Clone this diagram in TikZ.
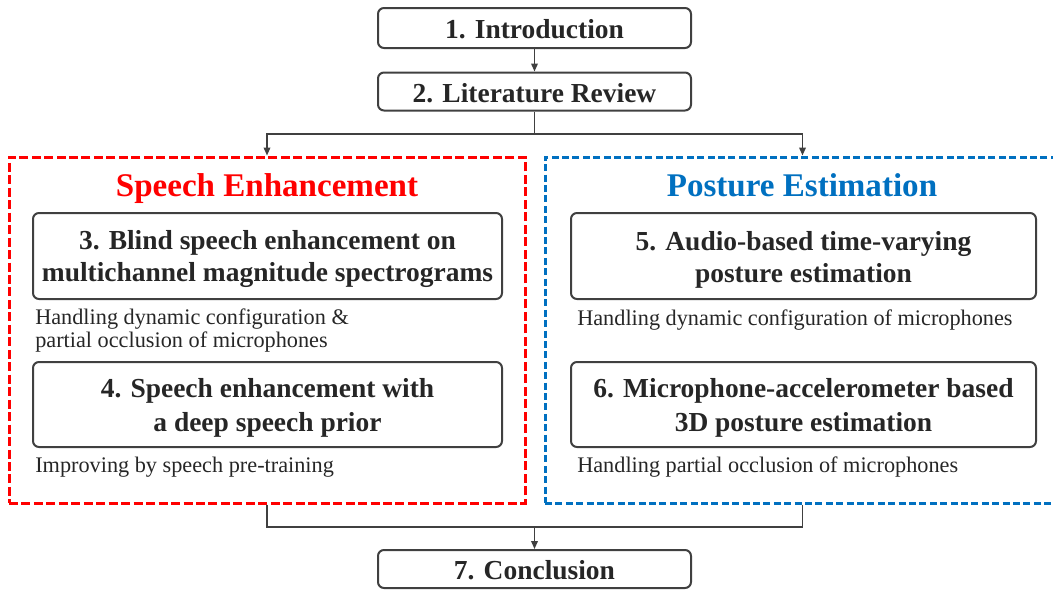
\documentclass[tikz,border=0pt]{standalone}
\usepackage{fontspec}
\setmainfont{Liberation Serif}
\usetikzlibrary{arrows.meta}
\definecolor{txt}{HTML}{262626}
\definecolor{edge}{HTML}{404040}
\definecolor{sered}{HTML}{FF0000}
\definecolor{peblue}{HTML}{0070C0}
\newcommand\boxtop{\rule{0pt}{19.5pt}}
\newcommand\boxtopone{\rule{0pt}{16.5pt}}
\tikzset{
  box/.style={draw=edge, line width=1.5pt, rounded corners=4.5pt, inner sep=0pt,
    text=txt, font=\fontsize{20.6}{24}\selectfont\bfseries, align=center},
  boxwide/.style={box, font=\fontsize{20.6}{25.5}\selectfont\bfseries},
  small/.style={inner sep=0pt, anchor=base west, text=txt, align=left,
    font=\fontsize{16.7}{17.25}\selectfont},
  conn/.style={draw=edge, line width=1.1pt},
  arr/.style={conn, -{Triangle[length=6pt,width=5pt]}},
  group/.style={inner sep=0pt, line width=2.25pt},
  grouptitle/.style={inner sep=0pt, anchor=base, font=\fontsize{24.8}{28}\selectfont\bfseries}
}
\begin{document}
\begin{tikzpicture}[x=0.75pt,y=-0.75pt]
\useasboundingbox (0,0) rectangle (1053,590);
% group frames
\node[group, draw=sered, dash pattern=on 6.75pt off 2.6pt, minimum width=387pt, minimum height=259.5pt] (se) at (267,330) {};
\node[group, draw=peblue, dash pattern=on 5.2pt off 2.6pt, minimum width=386.25pt, minimum height=259.5pt] (pe) at (802.5,330) {};
\node[grouptitle, text=sered] (set) at (267,196) {Speech Enhancement};
\node[grouptitle, text=peblue] (pet) at (802,196) {Posture Estimation};
% main boxes
\node[box, minimum width=234.75pt, minimum height=30pt] (n1) at (534.5,28) {\boxtopone 1. Introduction};
\node[box, minimum width=234.75pt, minimum height=28.5pt] (n2) at (534.5,91.5) {\boxtopone 2. Literature Review};
\node[box, minimum width=234.75pt, minimum height=28.5pt] (n7) at (534.5,569) {\boxtopone 7. Conclusion};
\node[box, minimum width=351.75pt, minimum height=64.5pt] (n3) at (267.5,256) {\boxtop 3. Blind speech enhancement on\\multichannel magnitude spectrograms};
\node[boxwide, minimum width=351.75pt, minimum height=63.75pt] (n4) at (267.5,404.5) {\boxtop 4. Speech enhancement with\\a deep speech prior};
\node[box, minimum width=348.75pt, minimum height=64.5pt] (n5) at (803.5,256) {\boxtop 5. Audio-based time-varying\\posture estimation};
\node[boxwide, minimum width=348.75pt, minimum height=63.75pt] (n6) at (803.5,404.5) {\boxtop 6. Microphone-accelerometer based\\3D posture estimation};
% notes
\node[small] (d3) at (35,347) {Handling dynamic configuration \&\\partial occlusion of microphones};
\node[small] (d4) at (35,472) {Improving by speech pre-training};
\node[small] (d5) at (577,325) {Handling dynamic configuration of microphones};
\node[small] (d6) at (577,472) {Handling partial occlusion of microphones};
% connectors
\coordinate (split) at (534.5,134);
\coordinate (join) at (534.5,527);
\draw[arr] (n1.south) -- (n2.north);
\draw[conn] (n2.south) -- (split);
\draw[arr] (split) -| (se.north);
\draw[arr] (split) -| (pe.north);
\draw[conn] (se.south) |- (join);
\draw[conn] (pe.south) |- (join);
\draw[arr] (join) -- (n7.north);
\end{tikzpicture}
\end{document}
